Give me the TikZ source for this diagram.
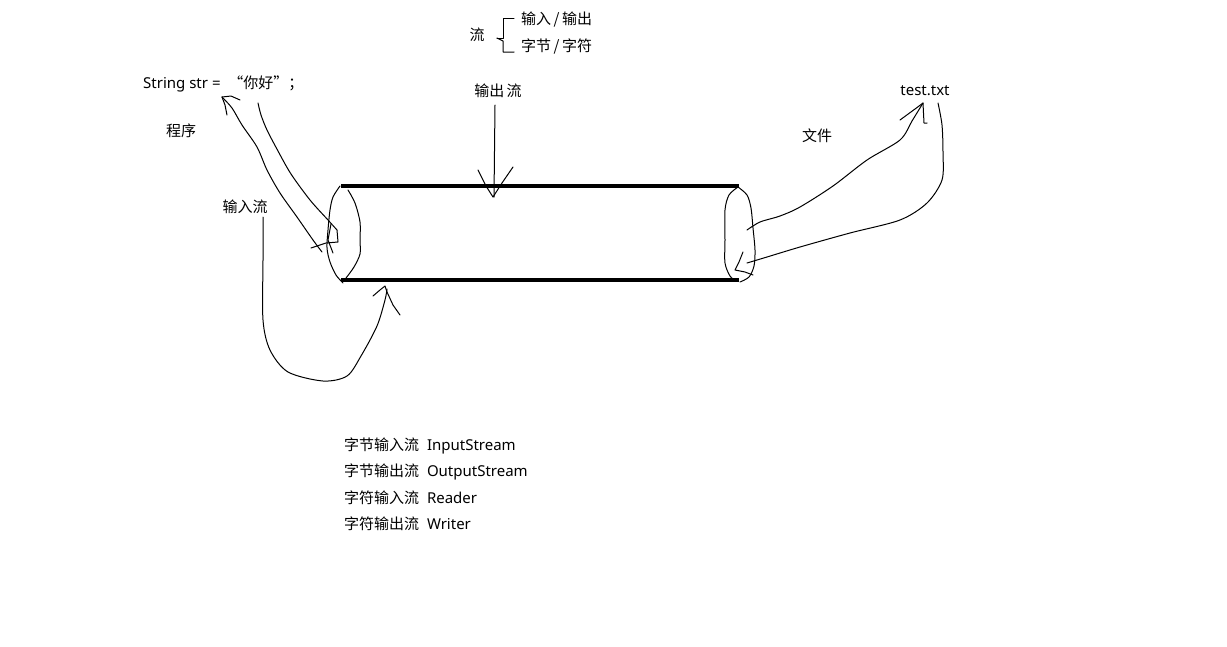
\documentclass[tikz,border=0pt]{standalone}
\usepackage{fontspec}
\setmainfont{Noto Sans}
\newfontfamily\cjk{Noto Sans CJK SC}
\begin{document}
\begin{tikzpicture}[x=1pt,y=-1pt,
  lbl/.style={inner sep=0pt,font=\fontsize{15}{17}\selectfont},
  pen/.style={line width=1pt,line join=round,line cap=round},
  tube/.style={line width=4.5pt}]
\useasboundingbox[fill=white] (0,0) rectangle (1227,646);

% texts
\node[lbl,anchor=west] (str) at (143,84) {String str =\ \ {\cjk “你好”；}};
\node[lbl] (prog) at (181,131) {\cjk 程序};
\node[lbl] (inl) at (245,207) {\cjk 输入流};
\node[lbl] (outl) at (498,91) {\cjk 输出\,流};
\node[lbl] (file) at (817,136) {\cjk 文件};
\node[lbl] (txt) at (925,91) {test.txt};
\node[lbl] (liu) at (477,35) {\cjk 流};
\node[lbl,anchor=west] (io) at (521,20) {\cjk 输入\,/\,输出};
\node[lbl,anchor=west] (bc) at (521,46) {\cjk 字节\,/\,字符};
\node[lbl,anchor=west] (l1) at (344,446) {{\cjk 字节输入流}\ \ InputStream};
\node[lbl,anchor=west] (l2) at (344,472) {{\cjk 字节输出流}\ \ OutputStream};
\node[lbl,anchor=west] (l3) at (344,498) {{\cjk 字符输入流}\ \ Reader};
\node[lbl,anchor=west] (l4) at (344,524) {{\cjk 字符输出流}\ \ Writer};

% brace
\draw[pen] (497,38) -- (503,38) -- (503,18) -- (514,18);
\draw[pen] (497,38) -- (503,41) -- (503,52) -- (514,52);

% tube
\coordinate (tl) at (341,186); \coordinate (tr) at (739,186);
\coordinate (bl) at (341,280); \coordinate (br) at (739,280);
\draw[tube] (tl) -- (tr);
\draw[tube] (bl) -- (br);

% left ellipse
\draw[pen] plot[smooth] coordinates {(340,186) (333,197) (330,210) (328,230) (327,248) (330,262) (336,275) (343,283)};
\draw[pen] plot[smooth] coordinates {(348,190) (355,203) (360,222) (360,240) (360,254) (354,267) (346,278)};

% right ellipse
\draw[pen] plot[smooth] coordinates {(738,187) (729,195) (725,210) (725,240) (725,263) (730,276) (736,281)};
\draw[pen] plot[smooth] coordinates {(738,187) (747,195) (751,208) (753,228) (755,250) (754,266) (749,277) (740,282)};

% output arrow
\draw[pen] (495,105) -- (494,197);
\draw[pen] (478,170) -- (486,186) -- (493,197) -- (502,183) -- (513,167);

% fat arrow from program into tube
\draw[pen] plot[smooth] coordinates {(222,97) (232,108) (242,125) (257,147) (267,170) (280,193) (297,217) (313,240) (322,252)};
\draw[pen] plot[smooth] coordinates {(258,103) (261,115) (267,130) (278,151) (291,174) (310,200) (328,220) (337,230)};
\draw[pen] (337,230) -- (338,242) -- (326,243) -- (311,248);
\draw[pen] (331,224) -- (328,240) -- (333,253);
\draw[pen] (222,97) -- (231,96) -- (240,100);
\draw[pen] (222,97) -- (225,105) -- (227,115);

% input curve
\draw[pen] plot[smooth] coordinates {(263,217) (263,260) (263,320) (270,350) (288,372) (323,381) (347,376) (361,356) (377,326) (385,300) (387,289)};
\draw[pen] (373,296) -- (380,290) -- (385,286) -- (387,292) -- (393,305) -- (400,315);

% upper curve to test.txt
\draw[pen] plot[smooth] coordinates {(747,230) (760,222) (780,216) (800,207) (833,186) (867,160) (900,140) (912,121) (923,103)};
\draw[pen] (900,120) -- (915,109) -- (923,103) -- (924,123) -- (927,123);

% lower curve from test.txt
\draw[pen] plot[smooth] coordinates {(938,103) (942,125) (943,153) (942,180) (927,203) (900,220) (850,233) (800,247) (767,257) (747,263)};
\draw[pen] (743,252) -- (739,262) -- (735,270) -- (745,272) -- (753,275);
\end{tikzpicture}
\end{document}
